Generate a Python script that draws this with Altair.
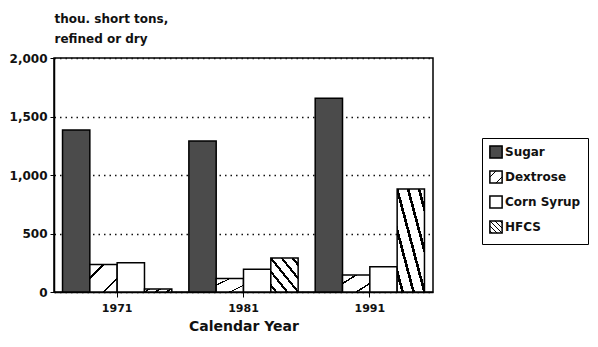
import altair as alt
import pandas as pd

years = ["1971", "1981", "1991"]
series = ["Sugar", "Dextrose", "Corn Syrup", "HFCS"]
sugar = [1385, 1290, 1655]
dextrose = [235, 115, 145]
corn_syrup = [250, 195, 215]
hfcs = [25, 290, 880]

rows = []
for i, y in enumerate(years):
    for s, vals in zip(series, [sugar, dextrose, corn_syrup, hfcs]):
        rows.append({"year": y, "series": s, "value": vals[i]})
df = pd.DataFrame(rows)


def stripes(n, w, x1, y1, x2, y2):
    stops = ["{offset:0,color:'white'}"]
    for k in range(n):
        c = (k + 0.5) / n
        a, b = c - w / 2, c + w / 2
        stops += [f"{{offset:{a:.4f},color:'white'}}", f"{{offset:{a:.4f},color:'black'}}",
                  f"{{offset:{b:.4f},color:'black'}}", f"{{offset:{b:.4f},color:'white'}}"]
    stops.append("{offset:1,color:'white'}")
    return {"expr": "{gradient:'linear',x1:%d,y1:%d,x2:%d,y2:%d,stops:[%s]}" % (x1, y1, x2, y2, ",".join(stops))}


fill_range = [
    "#4b4b4b",
    stripes(2, 0.05, 0, 0, 1, 1),
    "#ffffff",
    stripes(5, 0.05, 0, 1, 1, 0),
]

font = "DejaVu Sans"

bars = alt.Chart(df).mark_bar(stroke="black", strokeWidth=1.5).encode(
    x=alt.X("year:N", sort=years,
            scale=alt.Scale(paddingInner=0.135, paddingOuter=0.0675),
            axis=alt.Axis(title="Calendar Year", labelAngle=0, tickSize=5,
                          labelPadding=5, titlePadding=6, titleFontSize=14)),
    xOffset=alt.XOffset("series:N", sort=series, scale=alt.Scale(domain=series, paddingInner=0, paddingOuter=0)),
    y=alt.Y("value:Q", scale=alt.Scale(domain=[0, 2000], nice=False),
            axis=alt.Axis(values=[0, 500, 1000, 1500, 2000], format=",.0f", grid=True,
                          gridDash=[1.5, 4], gridColor="#111", gridWidth=1.3,
                          tickSize=4, labelPadding=3, labelFontSize=12,
                          title=["thou. short tons,", "refined or dry"],
                          titleAngle=0, titleAlign="left", titleBaseline="alphabetic",
                          titleX=0, titleY=-36, titleFontSize=12, titleLineHeight=20)),
    fill=alt.Fill("series:N", sort=series,
                  scale=alt.Scale(domain=series, range=fill_range),
                  legend=alt.Legend(title=None, orient="none", legendX=428, legendY=80,
                                    strokeColor="black", padding=7, fillColor="white",
                                    symbolType="square", symbolSize=150,
                                    symbolStrokeColor="black", symbolStrokeWidth=1.5,
                                    labelFont=font, labelFontWeight="bold", labelFontSize=12,
                                    labelColor="#111", rowPadding=5, labelOffset=2)),
)

chart = bars.properties(
    width=379, height=234,
    autosize=alt.AutoSizeParams(type="none"),
    padding={"left": 54, "top": 58, "right": 165, "bottom": 55},
).configure_view(stroke="black", strokeWidth=1.5).configure_axis(
    domainColor="black", domainWidth=1.5, tickColor="black",
    labelFont=font, labelFontWeight="bold", labelFontSize=11, labelColor="#111",
    titleFont=font, titleFontWeight="bold", titleColor="#111",
)

chart.save("out.html", embed_options={"renderer": "svg", "actions": False})
